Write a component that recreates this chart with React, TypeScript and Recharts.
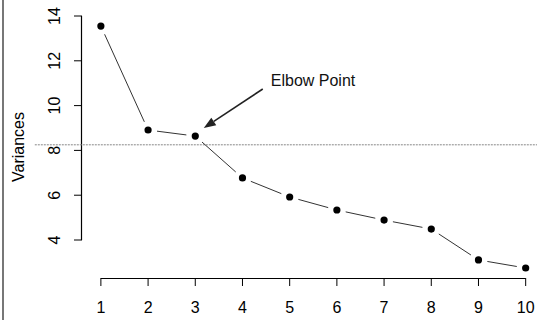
import { LineChart, Line, XAxis, YAxis, ReferenceLine } from "recharts";

const components = [1, 2, 3, 4, 5, 6, 7, 8, 9, 10];
const variances = [13.55, 8.91, 8.64, 6.77, 5.92, 5.34, 4.89, 4.49, 3.11, 2.75];
const yTicks = [4, 6, 8, 10, 12, 14];
const cutoff = 8.25;

const data = components.map((k, i) => ({ k, v: variances[i] }));

const FONT = "'Liberation Sans', Arial, sans-serif";
const GAP = 9;

function YTick({ y, payload }: any) {
  return (
    <text
      transform={`translate(60, ${y}) rotate(-90)`}
      textAnchor="middle"
      fontSize={16}
      fontFamily={FONT}
      fill="#000"
    >
      {payload.value}
    </text>
  );
}

function XTick({ x, payload }: any) {
  return (
    <text x={x} y={313} textAnchor="middle" fontSize={16} fontFamily={FONT} fill="#000">
      {payload.value}
    </text>
  );
}

// R type="b": each point plus a segment to the next one, with a gap at both ends
function PointDot(p: any) {
  const { cx, cy, index, points } = p;
  const next = points ? points[index + 1] : null;
  let seg = null;
  if (next) {
    const dx = next.x - cx;
    const dy = next.y - cy;
    const d = Math.hypot(dx, dy);
    seg = (
      <line
        x1={cx + (dx * GAP) / d}
        y1={cy + (dy * GAP) / d}
        x2={next.x - (dx * GAP) / d}
        y2={next.y - (dy * GAP) / d}
        stroke="#333"
        strokeWidth={1}
      />
    );
  }
  return (
    <g key={`dot-${index}`}>
      {seg}
      <circle cx={cx} cy={cy} r={3.6} fill="#000" />
    </g>
  );
}

// vertical axis line, drawn at the x of the first point of the segment
function YAxisSeg(p: any) {
  const x = Math.round(p.x1) - 0.5;
  return <line x1={x} y1={p.y1} x2={x} y2={p.y2} stroke="#000" strokeWidth={1.2} />;
}

function XAxisSeg(p: any) {
  const y = Math.round(p.y1) + 0.5;
  return <line x1={p.x1} y1={y} x2={p.x2} y2={y} stroke="#000" strokeWidth={1.2} />;
}

function Arrow(p: any) {
  const { x1, y1, x2, y2 } = p;
  const ang = Math.atan2(y2 - y1, x2 - x1);
  const len = 12;
  const w = 4.5;
  const bx = x2 - len * Math.cos(ang);
  const by = y2 - len * Math.sin(ang);
  const px = -Math.sin(ang) * w;
  const py = Math.cos(ang) * w;
  return (
    <g>
      <line x1={x1} y1={y1} x2={bx} y2={by} stroke="#222" strokeWidth={1.6} />
      <polygon
        points={`${x2},${y2} ${bx + px},${by + py} ${bx - px},${by - py}`}
        fill="#222"
      />
      <text x={x1 + 8} y={y1 - 3} fontSize={16} fontFamily={FONT} fill="#111">
        Elbow Point
      </text>
    </g>
  );
}

export default function App() {
  return (
    <div
      style={{
        position: "absolute",
        left: 0,
        top: 0,
        width: 537,
        height: 320,
        background: "#fff",
        overflow: "hidden",
      }}
    >
      <div
        style={{
          position: "absolute",
          left: 2,
          top: 0,
          width: 2,
          height: 320,
          background: "#777",
        }}
      />
      <LineChart
        width={537}
        height={320}
        data={data}
        margin={{ top: 16, right: 0, left: 0, bottom: 0 }}
      >
        <XAxis
          dataKey="k"
          type="number"
          domain={[0.6, 10.24]}
          ticks={components}
          axisLine={false}
          tickLine={{ stroke: "#000" }}
          tickSize={8}
          height={42}
          tick={<XTick />}
          interval={0}
        />
        <YAxis
          type="number"
          domain={[2.304, 14]}
          ticks={yTicks}
          axisLine={false}
          tickLine={{ stroke: "#000" }}
          tickSize={8}
          width={82}
          tick={<YTick />}
          interval={0}
          label={{
            value: "Variances",
            position: "insideLeft",
            content: ({ viewBox }: any) => (
              <text
                transform={`translate(24, ${viewBox.y + viewBox.height / 2}) rotate(-90)`}
                textAnchor="middle"
                fontSize={16}
                fontFamily={FONT}
                fill="#000"
              >
                Variances
              </text>
            ),
          }}
        />
        <ReferenceLine
          segment={[
            { x: 0.6, y: 4 },
            { x: 1, y: 14 },
          ]}
          ifOverflow="visible"
          shape={YAxisSeg}
        />
        <ReferenceLine
          segment={[
            { x: 1, y: 2.304 },
            { x: 10, y: 2.304 },
          ]}
          ifOverflow="visible"
          shape={XAxisSeg}
        />
        <ReferenceLine
          segment={[
            { x: -0.4, y: cutoff },
            { x: 10.24, y: cutoff },
          ]}
          stroke="#888"
          strokeDasharray="2 1"
          ifOverflow="visible"
        />
        <Line
          dataKey="v"
          type="linear"
          stroke="none"
          dot={PointDot}
          activeDot={false}
          isAnimationActive={false}
        />
        <ReferenceLine
          segment={[
            { x: 4.43, y: 10.74 },
            { x: 3.18, y: 9.0 },
          ]}
          ifOverflow="visible"
          shape={Arrow}
        />
      </LineChart>
    </div>
  );
}
